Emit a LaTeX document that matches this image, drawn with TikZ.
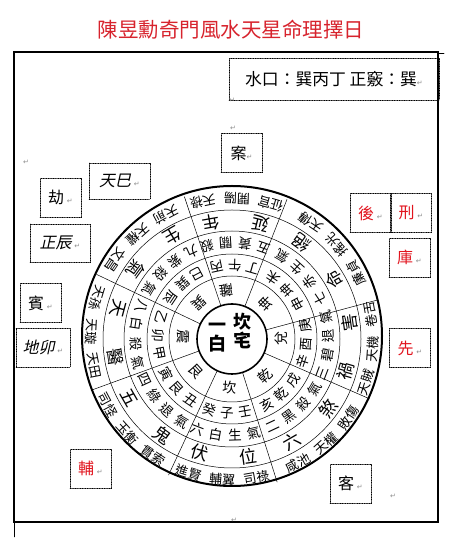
\documentclass[tikz,border=0pt]{standalone}
\usepackage{fontspec}
\usepackage{tikz}
\setmainfont{Liberation Serif}
\newfontfamily\cjk{Noto Sans CJK TC}
\newfontfamily\cjkit[FakeSlant=0.22]{Noto Sans CJK TC}
\newfontfamily\symfont{DejaVu Sans}
\definecolor{sealred}{RGB}{225,20,30}
\definecolor{titlered}{RGB}{215,35,45}
\definecolor{markgrey}{RGB}{140,140,140}
\newcommand\retmark{{\symfont\fontsize{7}{7}\selectfont\color{markgrey}↵}}

\begin{document}
\begin{tikzpicture}[x=1pt,y=1pt,line cap=round,
  notebox/.style={draw,dash pattern=on .8pt off .9pt,line width=.5pt,inner sep=0pt,
    minimum width=41pt,minimum height=39pt,font=\cjk\fontsize{16}{16}\selectfont},
  slantbox/.style={notebox,font=\cjkit\fontsize{16}{16}\selectfont},
  house/.style={inner sep=0pt,font=\cjk\bfseries\fontsize{18}{18}\selectfont},
  gua/.style={inner sep=0pt,font=\cjk\fontsize{14}{14}\selectfont},
  shan/.style={inner sep=0pt,font=\cjk\fontsize{13.5}{14}\selectfont},
  xing/.style={inner sep=0pt,font=\cjk\fontsize{17.5}{18}\selectfont},
  tian/.style={inner sep=0pt,font=\cjk\fontsize{13}{13}\selectfont},
  retnode/.style={inner sep=0pt}]
\useasboundingbox (0,0) rectangle (459,557);
% title and frame
\node[text=titlered,font=\cjk\fontsize{20.5}{21}\selectfont] (title) at (231,527) {陳昱勳奇門風水天星命理擇日};
\draw[line width=2pt] (14,35) rectangle (438,505);
\draw[line width=.5pt] (438,504) -- (444,504);
\draw[line width=.5pt] (14,35) -- (14,20);
% boxes round the compass
\node[notebox,minimum width=210pt,minimum height=42pt,font=\cjk\fontsize{16.8}{17}\selectfont] (shuikou) at (334,478) {水口：巽丙丁 正竅：巽\retmark};
\node[notebox] (an) at (241.5,404) {案\retmark};
\node[slantbox,minimum width=61pt,minimum height=36pt] (tiansi) at (119.5,376) {天巳\,\retmark};
\node[notebox] (jie) at (60.5,359.5) {劫\,\retmark};
\node[slantbox,minimum width=60pt,minimum height=38pt] (zhengchen) at (60,314) {正辰\,\retmark};
\node[notebox] (bin) at (40.5,254) {賓\,\retmark};
\node[slantbox,minimum width=54pt] (dimao) at (43,209.5) {地卯\,\retmark};
\node[notebox,text=sealred] (hou) at (370.5,344) {後\,\retmark};
\node[notebox,text=sealred] (xing) at (411,344) {刑\,\retmark};
\node[notebox,text=sealred] (ku) at (409.5,299.5) {庫\,\retmark};
\node[notebox,text=sealred] (xian) at (410,209) {先\,\retmark};
\node[notebox,text=sealred] (fu) at (90.5,88.5) {輔\,\retmark};
\node[notebox] (ke) at (350.5,73.5) {客\,\retmark};
% loose paragraph marks
\node[retnode] (m1) at (26,395) {\retmark};
\node[retnode] (m2) at (232,457) {\retmark};
\node[retnode] (m3) at (233,429) {\retmark};
\node[retnode] (m4) at (393,61) {\retmark};
\node[retnode] (m5) at (234,37) {\retmark};
% compass, centred on the house
\begin{scope}[shift={(232,218)}]
\draw[line width=1.6pt] (0,0) circle (35);
\foreach \r in {63,85,108,129} \draw[line width=.5pt] (0,0) circle (\r);
\draw[line width=2pt] (0,3) circle (150);
\foreach \a in {15,68.5,108.5,154.5,200,245,287.5,336.5}
  \draw[line width=.5pt] (\a:35) -- (\a:150);
% house star
\node[house] (yi) at (-15,12) {一};
\node[house] (bai) at (-15,-5) {白};
\node[house] (kan) at (10,17) {坎};
\node[house] (zhai) at (10,-1) {宅};
% trigrams
\foreach \a/\t in {97/離,133/巽,177/震,222/艮,267/坎,312/乾,0/兌,46/坤}
  \node[gua,rotate=\a+90] (g\a) at (\a:49) {\t};
% 24 mountains
\foreach \a/\p/\q/\s in {88/丁/午/丙,132/巳/巽/辰,177/乙/卯/甲,222/寅/艮/丑,
    266/癸/子/壬,312/亥/乾/戌,356/辛/酉/庚,42/申/坤/未}{
  \node[shan,rotate=\a+76] at ({\a-14}:74) {\p};
  \node[shan,rotate=\a+90] at (\a:74) {\q};
  \node[shan,rotate=\a+104] at ({\a+14}:74) {\s};}
% flying stars
\foreach \a/\p/\q/\s/\u in {88/五/黃/關/殺,132/九/紫/殺/氣,177/八/白/殺/氣,222/四/綠/退/氣,
    266/六/白/生/氣,312/二/黑/殺/氣,356/三/碧/退/氣,42/七/赤/生/氣}{
  \node[shan,rotate=\a+73] at ({\a-17}:96.5) {\p};
  \node[shan,rotate=\a+84.3] at ({\a-5.7}:96.5) {\q};
  \node[shan,rotate=\a+95.7] at ({\a+5.7}:96.5) {\s};
  \node[shan,rotate=\a+107] at ({\a+17}:96.5) {\u};}
% eight mansions
\foreach \a/\p/\q in {88/延/年,132/生/氣,177/天/醫,222/五/鬼,
    266/伏/位,312/六/煞,356/禍/害,42/命/絕}{
  \node[xing,rotate=\a+78] at ({\a-12}:118.5) {\p};
  \node[xing,rotate=\a+102] at ({\a+12}:118.5) {\q};}
% outer stars
\foreach \a/\p/\q/\s in {88/征官/開陽/天祿,132/天前/天權/文昌,177/天孫/天璇/天田,
    222/司怪/玉衡/貫索,266/進賢/輔翼/司祿,312/咸池/天權/敗傷,356/天賊/天機/卷舌,
    42/廉貞/搖光/天傳}{
  \node[tian,rotate=\a+76] at ({\a-14}:140.5) {\p};
  \node[tian,rotate=\a+90] at (\a:140.5) {\q};
  \node[tian,rotate=\a+104] at ({\a+14}:140.5) {\s};}
\end{scope}
\end{tikzpicture}
\end{document}
